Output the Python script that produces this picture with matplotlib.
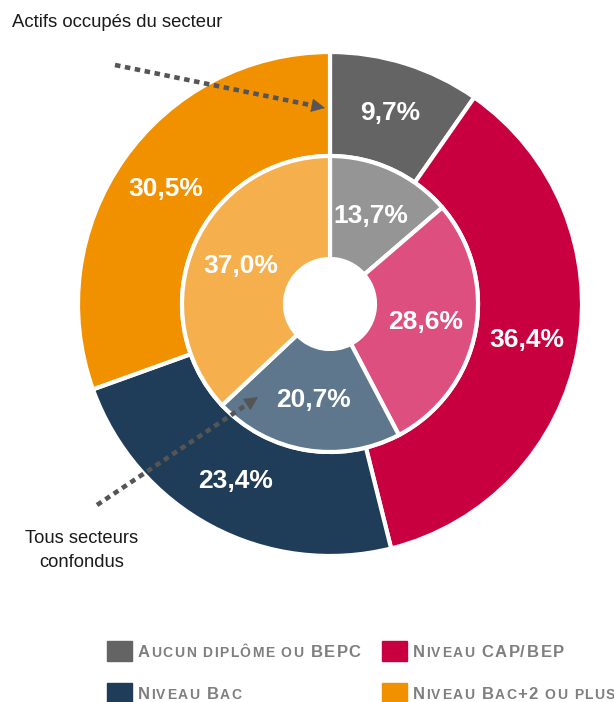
import matplotlib.pyplot as plt
from matplotlib.patches import Rectangle
from matplotlib.font_manager import FontProperties, findfont
from matplotlib.ft2font import FT2Font, LoadFlags

plt.rcParams['font.family'] = ['Liberation Sans', 'DejaVu Sans']

# Data
categories = ["Aucun diplôme ou BEPC", "Niveau CAP/BEP", "Niveau Bac", "Niveau Bac+2 ou plus"]
secteur = [9.7, 36.4, 23.4, 30.5]          # outer ring: actifs occupés du secteur
tous_secteurs = [13.7, 28.6, 20.7, 37.0]   # inner ring: tous secteurs confondus
outer_colors = ["#646464", "#C9003F", "#1F3D58", "#F29100"]
inner_colors = ["#959595", "#DD4F7E", "#5E778C", "#F5B04D"]

W, H = 614, 702
fig = plt.figure(figsize=(W / 100, H / 100), dpi=100)
ax = fig.add_axes([0, 0, 1, 1])


def fy(py):
    # pixel row (from top) -> data y
    return H - py


def fmt(p):
    return f"{p:.1f}%".replace(".", ",")


cx, cy = 330, fy(304)
label_style = dict(color="white", fontsize=19, fontweight="bold")

# outer ring
ax.pie(secteur, colors=outer_colors, startangle=90, counterclock=False,
       center=(cx, cy), radius=252, autopct=fmt, pctdistance=0.795,
       wedgeprops=dict(width=104, edgecolor="white", linewidth=3),
       textprops=label_style)
# inner ring
ax.pie(tous_secteurs, colors=inner_colors, startangle=90, counterclock=False,
       center=(cx, cy), radius=148, autopct=fmt, pctdistance=0.655,
       wedgeprops=dict(width=103, edgecolor="white", linewidth=3),
       textprops=label_style)

ax.set_xlim(0, W)
ax.set_ylim(0, H)
ax.set_aspect("equal")
ax.axis("off")

# annotations
ax.text(12, fy(27), "Actifs occupés du secteur", fontsize=13.3, color="#1a1a1a",
        ha="left", va="baseline")
ax.text(82, fy(543), "Tous secteurs", fontsize=13.2, color="#1a1a1a",
        ha="center", va="baseline")
ax.text(82, fy(567), "confondus", fontsize=13.2, color="#1a1a1a",
        ha="center", va="baseline")

arrow_col = "#555555"


def dotted_arrow(x0, y0, x1, y1):
    # dotted shaft + solid head
    dx, dy = x1 - x0, y1 - y0
    L = (dx ** 2 + dy ** 2) ** 0.5
    ux, uy = dx / L, dy / L
    hx, hy = x1 - ux * 14, y1 - uy * 14
    ax.plot([x0, hx], [fy(y0), fy(hy)], color=arrow_col, lw=3.3,
            linestyle=(0, (1.2, 1.0)), dash_capstyle="butt")
    ax.annotate("", xy=(x1, fy(y1)), xytext=(hx + ux * 2, fy(hy + uy * 2)),
                arrowprops=dict(arrowstyle="-|>,head_length=0.9,head_width=0.45",
                                color=arrow_col, lw=0.5, shrinkA=0, shrinkB=0))


dotted_arrow(115, 65, 325, 108)
dotted_arrow(97, 505, 258, 397)

# legend with fake small caps text (glyph by glyph)
font = FT2Font(findfont(FontProperties(family="Liberation Sans", weight="bold")))


def glyph_metrics(c, size):
    font.set_size(size, 100)
    g = font.load_char(ord(c), flags=LoadFlags.NO_HINTING)
    return g.linearHoriAdvance / 65536, g.horiBearingX / 64


def smallcaps(x, y, text, big=12, small=10, track=1.45, color="#7F7F7F"):
    for ch in text:
        size = big if (ch.isupper() or ch.isdigit() or ch in "+/") else small
        c = ch.upper()
        adv, lsb = glyph_metrics(c, size)
        if c != " ":
            ax.text(x + lsb, y, c, fontsize=size, fontweight="bold",
                    color=color, ha="left", va="baseline")
        x += adv + track


legend_pos = [(107, 641), (382, 641), (107, 683), (382, 683)]
for (lx, ly), name, col in zip(legend_pos, categories, outer_colors):
    ax.add_patch(Rectangle((lx, fy(ly + 20)), 25, 20, color=col))
    smallcaps(lx + 30, fy(ly + 16), name)

fig.savefig("out.png", dpi=100)
